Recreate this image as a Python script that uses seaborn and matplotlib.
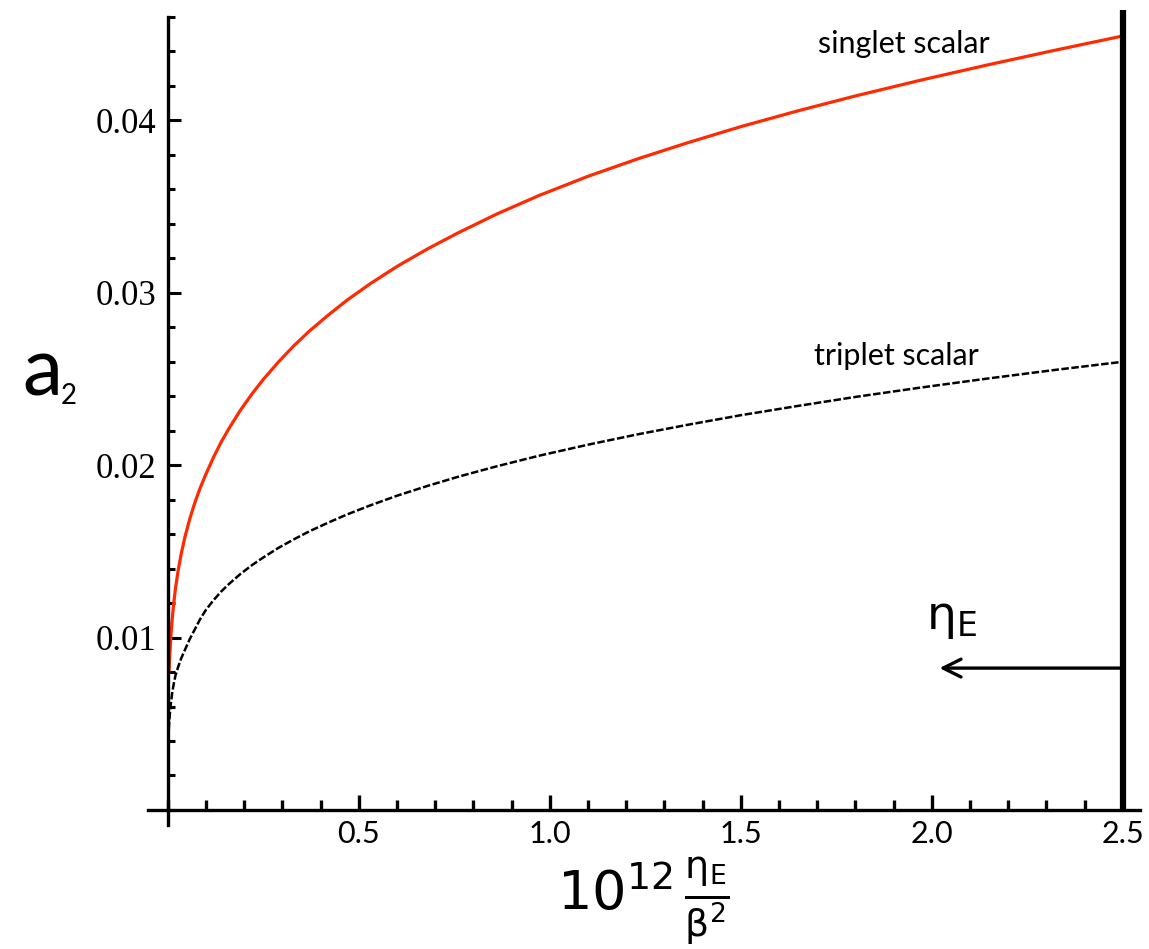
import seaborn as sns
import pandas as pd
import matplotlib.pyplot as plt
from matplotlib.ticker import FixedLocator, MultipleLocator

# values (both share the same x samples)
eta_x = [0.003, 0.005, 0.008, 0.011, 0.015, 0.02, 0.027, 0.035, 0.045, 0.057, 0.07, 0.084,
         0.1, 0.12, 0.14, 0.16, 0.19, 0.22, 0.25, 0.29, 0.33, 0.37, 0.42, 0.47,
         0.53, 0.6, 0.68, 0.76, 0.86, 0.97, 1.1, 1.23, 1.36, 1.5, 1.65, 1.8,
         1.97, 2.14, 2.32, 2.5]
singlet_y = [0.0080, 0.0090, 0.0101, 0.0110, 0.0119, 0.01286, 0.0139, 0.01486, 0.01586, 0.01686, 0.01778, 0.01865,
             0.0195, 0.02048, 0.02136, 0.02213, 0.02319, 0.02413, 0.02498, 0.0260, 0.02693, 0.02777, 0.02871, 0.02959,
             0.03053, 0.03153, 0.03255, 0.03348, 0.03456, 0.03563, 0.03676, 0.03777, 0.0387, 0.03964, 0.04056, 0.04142,
             0.04233, 0.04319, 0.04406, 0.0449]
triplet_y = [0.00487, 0.00553, 0.00622, 0.00673, 0.00727, 0.00781, 0.0083, 0.0088, 0.0093, 0.0099, 0.01045, 0.01105,
             0.01162, 0.01218, 0.01268, 0.01311, 0.01369, 0.0142, 0.01465, 0.01521, 0.0157, 0.01616, 0.01667, 0.01715,
             0.01767, 0.01823, 0.0188, 0.01933, 0.01993, 0.02054, 0.02119, 0.02179, 0.02234, 0.0229, 0.02344, 0.02396,
             0.0245, 0.02501, 0.02552, 0.0260]

x_major = [0.5, 1.0, 1.5, 2.0, 2.5]
x_labels = ['0.5', '1.0', '1.5', '2.0', '2.5']
y_major = [0.01, 0.02, 0.03, 0.04]
y_labels = ['0.01', '0.02', '0.03', '0.04']
eta_bound = 2.5

df_s = pd.DataFrame({'x': eta_x, 'y': singlet_y})
df_t = pd.DataFrame({'x': [0.0015] + eta_x, 'y': [0.0041] + triplet_y})

sns.set_style('ticks', rc={'text.color': 'black', 'axes.labelcolor': 'black',
                           'xtick.color': 'black', 'ytick.color': 'black',
                           'axes.edgecolor': 'black'})
plt.rcParams['font.family'] = ['Lato', 'DejaVu Sans']
plt.rcParams['mathtext.fontset'] = 'dejavusans'

fig = plt.figure(figsize=(11.49, 9.49), dpi=100)
ax = fig.add_axes([0.1288, 0.1307, 0.8634, 0.8514])

sns.lineplot(data=df_s, x='x', y='y', color='#ff2a00', lw=2.3, ax=ax)
sns.lineplot(data=df_t, x='x', y='y', color='black', lw=1.8, ax=ax)
ax.lines[-1].set_dashes((3, 1))

ax.set_xlim(-0.052, 2.545)
ax.set_ylim(-0.00087, 0.046)

for s in ['top', 'right']:
    ax.spines[s].set_visible(False)
ax.spines['left'].set_position(('data', 0))
ax.spines['bottom'].set_position(('data', 0))
for s in ['left', 'bottom']:
    ax.spines[s].set_linewidth(2.4)

ax.xaxis.set_major_locator(FixedLocator(x_major))
ax.xaxis.set_minor_locator(MultipleLocator(0.1))
ax.yaxis.set_major_locator(FixedLocator(y_major))
ax.yaxis.set_minor_locator(MultipleLocator(0.002))
ax.set_xticklabels(x_labels, fontsize=22, family=['Lato', 'DejaVu Sans'])
ax.set_yticklabels(y_labels, fontsize=25, family=['Liberation Serif', 'DejaVu Serif'])

ax.tick_params(axis='x', which='major', direction='in', length=11, width=2.4, pad=7)
ax.tick_params(axis='x', which='minor', direction='in', length=7, width=2.4)
ax.tick_params(axis='y', which='major', direction='in', length=9, width=2.2, pad=8)
ax.tick_params(axis='y', which='minor', direction='in', length=5, width=2.2)

ax.set_xlabel('')
ax.set_ylabel('')

# eta_E upper bound
ax.vlines(eta_bound, 0, 0.0464, color='black', lw=4.5, clip_on=False, zorder=5)
ax.annotate('', xy=(2.02, 0.00823), xytext=(eta_bound, 0.00823),
            arrowprops=dict(arrowstyle='->', lw=2.4, color='black', mutation_scale=32,
                            shrinkA=0, shrinkB=0))
ax.text(2.052, 0.0110, r'$\mathrm{\eta}_\mathrm{E}$', fontsize=34, ha='center', va='center')

ax.text(1.927, 0.0439, 'singlet scalar', fontsize=22, ha='center', va='baseline')
ax.text(1.906, 0.0258, 'triplet scalar', fontsize=22, ha='center', va='baseline')

fig.text(42 / 1149, 1 - 372 / 949, 'a', fontsize=58, ha='center', va='center')
fig.text(69 / 1149, 1 - 396 / 949, '2', fontsize=20, ha='center', va='center')
fig.text(643 / 1149, 1 - 902 / 949, r'$10^{12}\,\frac{\mathrm{\eta}_\mathrm{E}}{\mathrm{\beta}^{2}}$',
         fontsize=39, ha='center', va='center')

plt.savefig('out.png', dpi=100)
